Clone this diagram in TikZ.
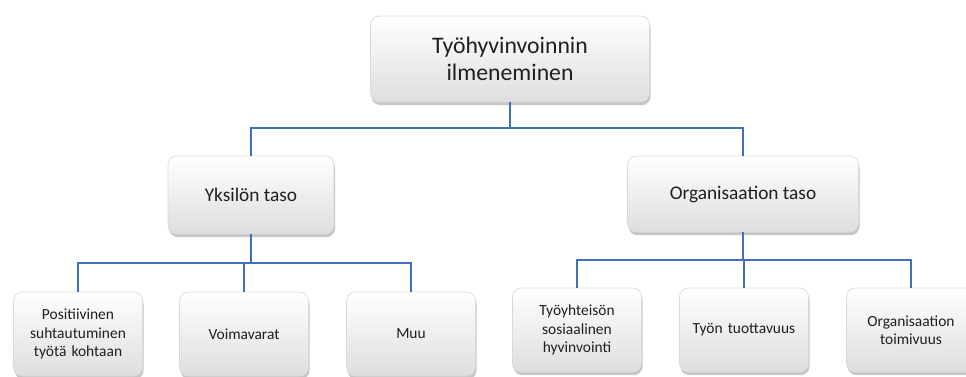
\documentclass[tikz,border=0pt]{standalone}
\usepackage{fontspec}
\setmainfont{Carlito}
\usetikzlibrary{shadows}
\definecolor{linkblue}{RGB}{66,110,190}
\colorlet{boxtext}{black!88}
\tikzset{
  box/.style={rectangle,rounded corners=5pt,draw=black!15,top color=white,bottom color=black!13,
    drop shadow={shadow xshift=0.6pt,shadow yshift=-1.8pt,opacity=0.45},
    text=boxtext,align=center,inner sep=2pt},
  leaf/.style={box,minimum width=2.58cm,minimum height=1.68cm,text width=2.4cm,
    font=\fontsize{8.8}{10.5}\selectfont},
  link/.style={draw=linkblue,line width=1.6pt},
}

\begin{document}
\begin{tikzpicture}[x=0.02cm,y=-0.02cm]
  \useasboundingbox (0,0) rectangle (966,376);
  % levels
  \node [box,minimum width=5.58cm,minimum height=1.72cm,font=\fontsize{13.5}{15}\selectfont] (top) at (510,59) {Työhyvinvoinnin\\ilmeneminen};
  \node [box,minimum width=3.32cm,minimum height=1.56cm,font=\fontsize{11}{13}\selectfont] (yks) at (251,195) {Yksilön taso};
  \node [box,minimum width=4.62cm,minimum height=1.52cm,font=\fontsize{11}{13}\selectfont] (org) at (743,194) {Organisaation taso};
  \coordinate (b0) at (510,128);
  \coordinate (b1) at (245,263);
  \coordinate (b2) at (743,260);
  \draw [link] (top.south) -- (b0) -| (yks.north);
  \draw [link] (b0) -| (org.north);
  \draw [link] (yks.south) |- (b1);
  \draw [link] (org.south) -- (b2);
  % leaves
  \foreach \name/\x/\txt in {p1/78/{Positiivinen\\suhtautuminen\\työtä kohtaan},p2/244/Voimavarat,p3/411/Muu}
  {
    \node [leaf] (\name) at (\x,334) {\txt};
    \draw [link] (b1) -| (\name.north);
  }
  \foreach \name/\x/\txt in {o1/577/{Työyhteisön\\sosiaalinen\\hyvinvointi},o2/744/Työn tuottavuus,o3/911/{Organisaation\\toimivuus}}
  {
    \node [leaf] (\name) at (\x,330) {\txt};
    \draw [link] (b2) -| (\name.north);
  }
\end{tikzpicture}
\end{document}
